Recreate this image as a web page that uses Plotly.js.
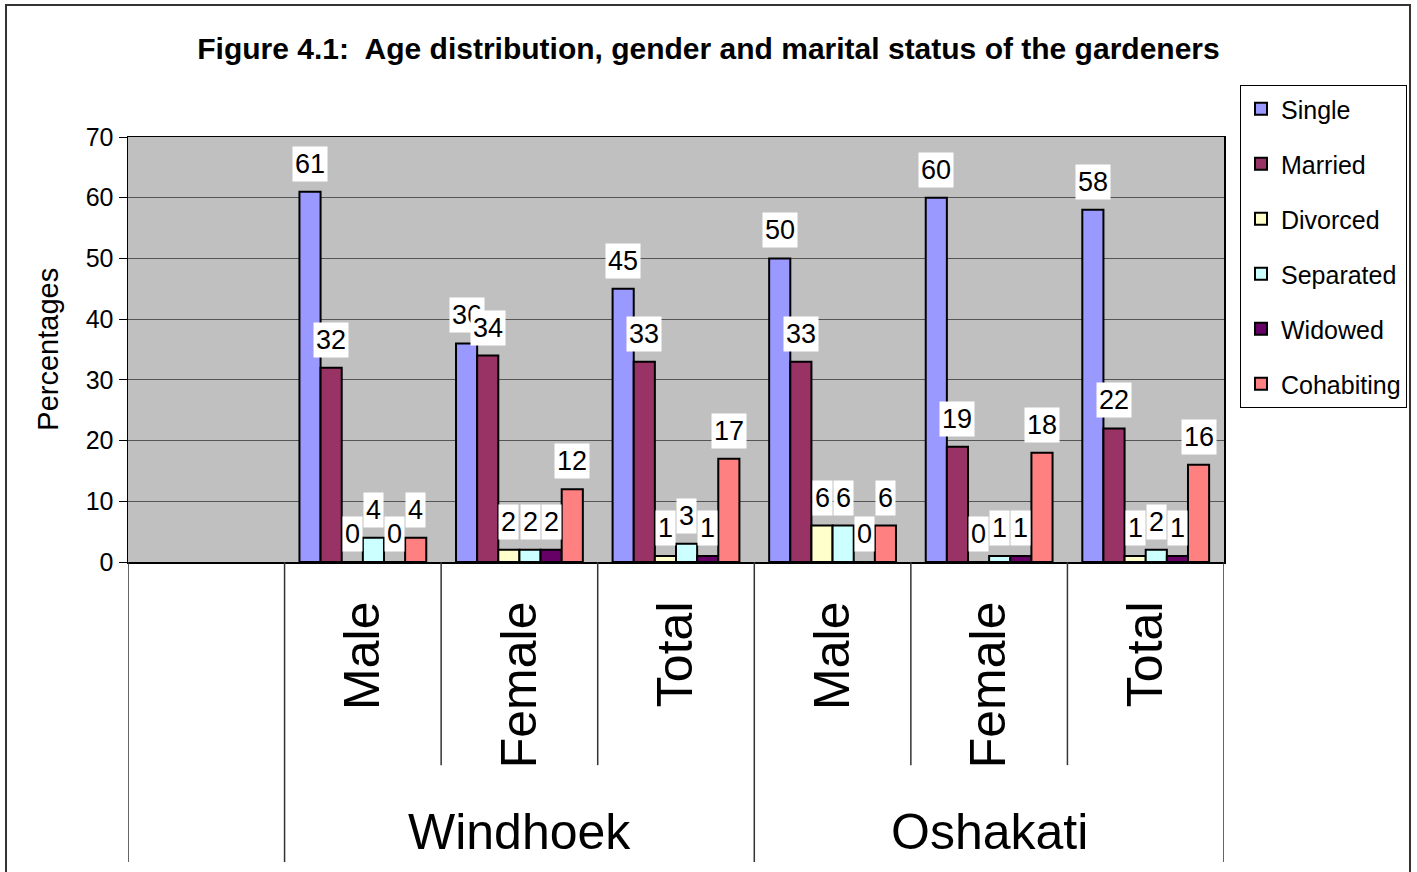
<!DOCTYPE html>
<html>
<head>
<meta charset="utf-8">
<script src="https://cdn.plot.ly/plotly-3.0.1.min.js"></script>
<style>
  html, body { margin: 0; padding: 0; background: #fff; }
  #chart { width: 1417px; height: 872px; }
</style>
</head>
<body>
<div id="chart"></div>
<script>
// ---- data ----
const categories = ["", "Male", "Female", "Total", "Male", "Female", "Total"];
const towns = ["Windhoek", "Oshakati"];
const townStart = [1, 4];           // first category index of each town
const seriesNames = ["Single", "Married", "Divorced", "Separated", "Widowed", "Cohabiting"];
const single     = [null, 61, 36, 45, 50, 60, 58];
const married    = [null, 32, 34, 33, 33, 19, 22];
const divorced   = [null, 0, 2, 1, 6, 0, 1];
const separated  = [null, 4, 2, 3, 6, 1, 2];
const widowed    = [null, 0, 2, 1, 0, 1, 1];
const cohabiting = [null, 4, 12, 17, 6, 18, 16];
const yTicks = [0, 10, 20, 30, 40, 50, 60, 70];
const yTitle = "Percentages";

// ---- styling ----
const colors = ["#9999FF", "#993366", "#FFFFCC", "#CCFFFF", "#660066", "#FF8080"];
const values = [single, married, divorced, separated, widowed, cohabiting];
const bargap = 0.19;
const font = "Liberation Sans, Arial, sans-serif";
const xIdx = categories.map((c, i) => i);

const traces = values.map((v, s) => ({
  type: "bar",
  name: seriesNames[s],
  x: xIdx,
  y: v,
  marker: { color: colors[s], line: { color: "#000", width: 2 } },
  legendgroup: "g" + s,
  hoverinfo: "name+y"
}));

// data labels (white boxes) through the x/y scales
const nS = values.length;
const w = (1 - bargap) / nS;
const annotations = [];
values.forEach((v, s) => {
  v.forEach((val, i) => {
    if (val === null) return;
    annotations.push({
      xref: "x", yref: "y",
      x: i + (s - (nS - 1) / 2) * w,
      y: val,
      text: String(val),
      showarrow: false,
      yanchor: "bottom",
      yshift: 10,
      bgcolor: "#ffffff",
      borderpad: 2,
      font: { family: font, size: 27, color: "#000" }
    });
  });
});

// town labels
towns.forEach((t, k) => {
  annotations.push({
    xref: "x", yref: "paper",
    x: townStart[k] + 1, y: -0.635,
    text: t, showarrow: false,
    xanchor: "center", yanchor: "middle",
    font: { family: font, size: 50, color: "#000" }
  });
});

// y axis title
annotations.push({
  xref: "paper", yref: "paper",
  x: -0.073, y: 0.502,
  text: yTitle, showarrow: false, textangle: -90,
  xanchor: "center", yanchor: "middle",
  font: { family: font, size: 29, color: "#000" }
});

// divider lines of the category axis
const shapes = [];
for (let i = 0; i <= categories.length; i++) {
  const xb = i - 0.5;
  const long = (xb === -0.5 || xb === categories.length - 0.5 ||
                townStart.some(ts => ts - 0.5 === xb));
  shapes.push({
    type: "line", xref: "x", yref: "paper",
    x0: xb, x1: xb, y0: 0, y1: long ? -0.706 : -0.478,
    line: { color: "#333", width: 1.5 }
  });
}
// outer chart frame
shapes.push({
  type: "rect", xref: "paper", yref: "paper",
  x0: -0.1113, x1: 1.1697, y0: -0.76, y1: 1.3106,
  line: { color: "#333", width: 2 }
});

const layout = {
  width: 1417, height: 872,
  margin: { l: 128, r: 193, t: 137, b: 310 },
  paper_bgcolor: "#fff",
  plot_bgcolor: "#C0C0C0",
  barmode: "group",
  bargap: bargap,
  bargroupgap: 0,
  title: {
    text: "<b>Figure 4.1:\u00a0 Age distribution, gender and marital status of the gardeners</b>",
    font: { family: font, size: 30, color: "#000" },
    xref: "container", x: 0.5, xanchor: "center",
    yref: "container", y: 1 - 48 / 872, yanchor: "middle"
  },
  xaxis: {
    range: [-0.5, categories.length - 0.5],
    tickmode: "array",
    tickvals: xIdx,
    ticktext: categories,
    tickangle: -90,
    ticks: "",
    ticklabelstandoff: 18,
    tickfont: { family: font, size: 50, color: "#000" },
    showgrid: false,
    zeroline: false,
    showline: true, mirror: true,
    linecolor: "#000", linewidth: 1.5,
    automargin: false,
    fixedrange: true
  },
  yaxis: {
    range: [0, 70],
    tickmode: "array",
    tickvals: yTicks,
    ticks: "outside",
    ticklen: 8,
    tickcolor: "#000",
    tickfont: { family: font, size: 25, color: "#000" },
    showgrid: true,
    gridcolor: "#555",
    gridwidth: 1,
    zeroline: false,
    showline: true, mirror: true,
    linecolor: "#000", linewidth: 1.5,
    automargin: false,
    fixedrange: true
  },
  showlegend: true,
  legend: {
    xref: "container", x: 1240 / 1417, xanchor: "left",
    yref: "container", y: 1 - 85 / 872, yanchor: "top",
    bgcolor: "#fff",
    bordercolor: "#000",
    borderwidth: 1,
    font: { family: font, size: 25, color: "#000" },
    tracegroupgap: 19.5,
    traceorder: "grouped"
  },
  annotations: annotations,
  shapes: shapes
};

Plotly.newPlot("chart", traces, layout, { displayModeBar: false, staticPlot: true });
</script>
</body>
</html>
